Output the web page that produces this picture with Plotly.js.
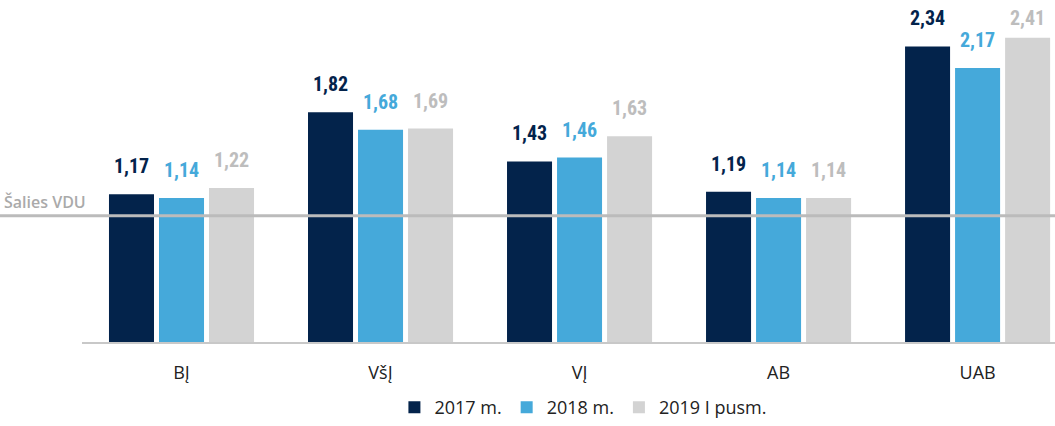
<!DOCTYPE html>
<html><head><meta charset="utf-8">
<script src="https://cdn.plot.ly/plotly-3.0.1.min.js"></script>
<style>html,body{margin:0;padding:0;background:#fff}</style>
</head><body>
<div id="chart" style="width:1055px;height:426px"></div>
<script>
const categories = ["BĮ", "VšĮ", "VĮ", "AB", "UAB"];
const seriesNames = ["2017 m.", "2018 m.", "2019 I pusm."];
const v2017 = [1.17, 1.82, 1.43, 1.19, 2.34];
const v2018 = [1.14, 1.68, 1.46, 1.14, 2.17];
const v2019 = [1.22, 1.69, 1.63, 1.14, 2.41];
const nationalLabel = "Šalies VDU";
const nationalValue = 1.0;

const colors = ["#03234B", "#45A9DA", "#D3D3D3"];
const labelColors = ["#03234B", "#45A9DA", "#BDBDBD"];
const NUMFONT = "'Roboto Condensed', Roboto, sans-serif";
const TXTFONT = "'Open Sans', 'Noto Sans', sans-serif";
const series = [v2017, v2018, v2019];
const fmt = v => v.toFixed(2).replace('.', ',');

const H = 426, MT = 1, MB = 84, YMAX = 2.7;
const pxPerUnit = (H - MT - MB) / YMAX;

const traces = series.map((vals, i) => ({
  type: 'bar', x: categories, y: vals, name: seriesNames[i],
  marker: {color: colors[i]}, hoverinfo: 'skip'
}));

const annotations = [];
series.forEach((vals, i) => {
  vals.forEach((v, j) => {
    // keep label inside the page: top of label must stay below ~11px
    const barTop = (H - MB) - v * pxPerUnit;
    const shift = Math.min(14, Math.max(2, barTop - 11 - 21));
    annotations.push({
      x: categories[j], y: v, xref: 'x', yref: 'y', text: fmt(v),
      showarrow: false, xanchor: 'center', yanchor: 'bottom',
      xshift: (i - 1) * 50, yshift: shift,
      font: {family: NUMFONT, size: 20, color: labelColors[i], weight: 700}
    });
  });
});
annotations.push({
  x: 0, xref: 'paper', xanchor: 'left', xshift: -80,
  y: nationalValue, yref: 'y', yanchor: 'bottom', yshift: 1,
  text: nationalLabel, showarrow: false,
  font: {family: TXTFONT, size: 16, color: '#AAAAAA', weight: 600}
});

const layout = {
  width: 1055, height: H,
  margin: {l: 82, r: 0, t: MT, b: MB, autoexpand: false},
  paper_bgcolor: '#fff', plot_bgcolor: '#fff',
  barmode: 'group', bargap: 0.246, bargroupgap: 0.1,
  showlegend: true,
  legend: {orientation: 'h', x: 0.553, xref: 'container', xanchor: 'center',
    y: -0.012, yref: 'container', yanchor: 'bottom',
    font: {family: TXTFONT, size: 18, color: '#222'}, traceorder: 'normal', itemwidth: 30},
  xaxis: {range: [-0.5, 4.389], showline: true, linecolor: '#C8C8C8', linewidth: 1.5,
    ticks: '', showgrid: false, zeroline: false, automargin: false,
    tickfont: {family: TXTFONT, size: 18, color: '#222'}, ticklabelstandoff: 14},
  yaxis: {range: [0, YMAX], visible: false, showgrid: false, zeroline: false},
  shapes: [{type: 'line', xref: 'paper', yref: 'y', x0: -82/973, x1: 1,
    y0: nationalValue, y1: nationalValue, line: {color: '#BBBBBB', width: 3}, layer: 'above'}],
  annotations: annotations
};
Plotly.newPlot('chart', traces, layout, {displayModeBar: false, staticPlot: true});
</script>
</body></html>
